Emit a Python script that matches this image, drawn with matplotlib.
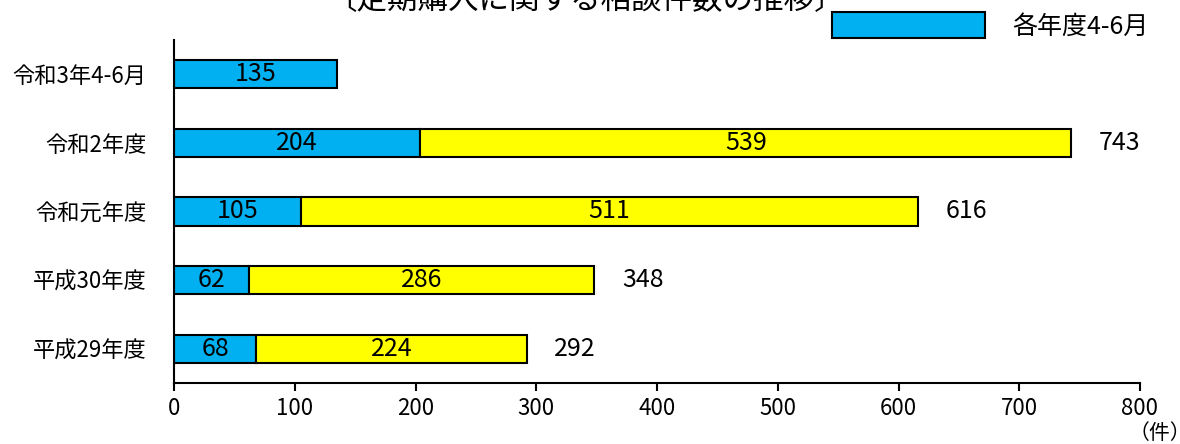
import matplotlib.pyplot as plt
import numpy as np

plt.rcParams['font.family'] = ['Noto Sans CJK JP', 'DejaVu Sans']

# 相談件数（件）
categories = ['平成29年度', '平成30年度', '令和元年度', '令和2年度', '令和3年4-6月']
apr_jun = [68, 62, 105, 204, 135]
rest_of_year = [224, 286, 511, 539, 0]
totals = [292, 348, 616, 743, None]

BLUE = '#00B0F0'
YELLOW = '#FFFF00'

fig = plt.figure(figsize=(11.8, 4.44), dpi=100)
ax = fig.add_axes([0.1475, 0.1374, 0.8186, 0.7726])

y = np.arange(len(categories))
h = 0.41
ax.barh(y, apr_jun, height=h, color=BLUE, edgecolor='black', linewidth=1.5,
        label='各年度4-6月')
has_rest = [r > 0 for r in rest_of_year]
ax.barh(y[has_rest], np.array(rest_of_year)[has_rest], left=np.array(apr_jun)[has_rest],
        height=h, color=YELLOW, edgecolor='black', linewidth=1.5)

for i in range(len(categories)):
    ax.text(apr_jun[i] / 2, y[i], str(apr_jun[i]), ha='center', va='center', fontsize=18)
    if rest_of_year[i] > 0:
        ax.text(apr_jun[i] + rest_of_year[i] / 2, y[i], str(rest_of_year[i]),
                ha='center', va='center', fontsize=18)
    if totals[i] is not None:
        ax.text(totals[i] + 40, y[i], str(totals[i]), ha='center', va='center', fontsize=18)

ax.set_xlim(0, 800)
ax.set_ylim(-0.5, 4.5)
ax.set_xticks(range(0, 801, 100))
ax.set_yticks(y)
ax.set_yticklabels(categories)
ax.tick_params(axis='x', labelsize=16, length=6, width=1.5, direction='out', pad=4)
ax.tick_params(axis='y', labelsize=16, length=0, pad=20)

for side in ['top', 'right']:
    ax.spines[side].set_visible(False)
for side in ['left', 'bottom']:
    ax.spines[side].set_linewidth(1.5)

fig.text(0.966 + 20 / 1180, 0.0, '（件）', ha='center', va='bottom', fontsize=15)

fig.legend(loc='upper left', bbox_to_anchor=(832 / 1180, 1 - 12 / 444), frameon=False,
           fontsize=18, handlelength=6.1, handleheight=1.25, handletextpad=1.1,
           borderpad=0, borderaxespad=0)

fig.text(0.496, 1 - 9 / 444, '〔定期購入に関する相談件数の推移〕', ha='center',
         va='baseline', fontsize=22)

fig.savefig('out.png', dpi=100)
